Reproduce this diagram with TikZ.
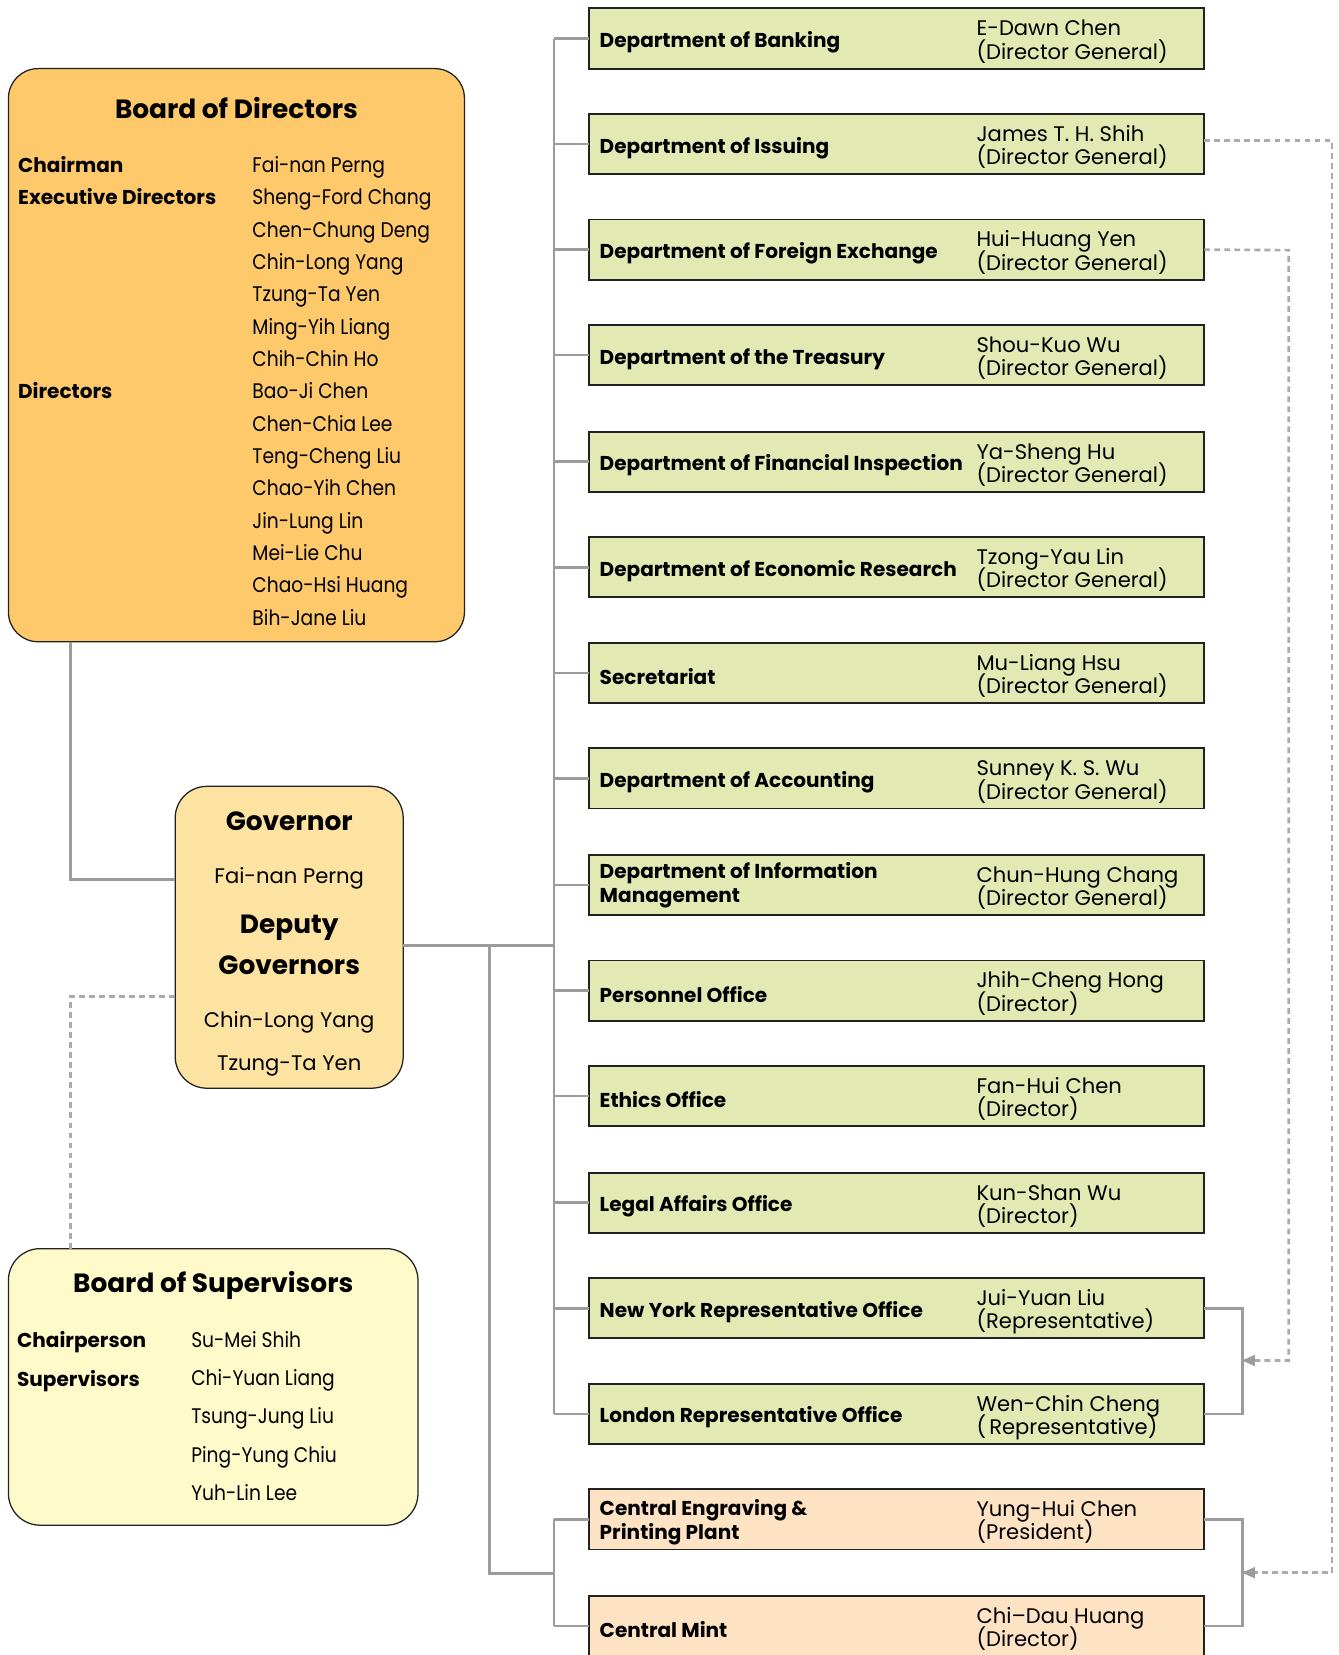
\documentclass[tikz,border=0pt]{standalone}
\usepackage{fontspec}
\setmainfont{Poppins}
\newfontfamily\nfont{Poppins}[FakeStretch=0.885]
\usetikzlibrary{arrows.meta}
\definecolor{bodfill}{HTML}{FDC96B}
\definecolor{govfill}{HTML}{FDE3A1}
\definecolor{supfill}{HTML}{FEFAC9}
\definecolor{deptfill}{HTML}{E2E9B2}
\definecolor{cenfill}{HTML}{FDE3C4}
\definecolor{linegray}{HTML}{9C9C9C}
\definecolor{boxline}{HTML}{222222}
\newcommand\dfont{\bfseries\fontsize{19}{23}\selectfont}
\newcommand\pfont{\fontsize{20}{23}\selectfont}
\newcommand\nmfont{\nfont\fontsize{20}{23}\selectfont}
\newcommand\tfont{\bfseries\fontsize{25}{30}\selectfont}
\newcommand\deptrow[7]{%
  \node[deptbox, fill=#3] (#1) at (558,#2) {};
  \node[dname, yshift=#7] (#1n) at ([xshift=10pt]#1.west) {#4};
  \node[pname] (#1a) at (925,#2+26) {#5};
  \node[pname] (#1b) at (925,#2+48) {#6};
}
\begin{document}
\begin{tikzpicture}[x=1pt,y=-1pt,
  deptbox/.style={draw=boxline, line width=1.8pt, minimum width=583pt, minimum height=57pt, anchor=north west, inner sep=0pt, outer sep=0pt},
  dname/.style={anchor=west, inner sep=0pt, font=\dfont, align=left},
  pname/.style={anchor=base west, inner sep=0pt, font=\pfont},
  nname/.style={anchor=base west, inner sep=0pt, font=\nmfont},
  lbl/.style={anchor=base west, inner sep=0pt, font=\dfont},
  ttl/.style={anchor=base, inner sep=0pt, font=\tfont},
  cname/.style={anchor=base, inner sep=0pt, font=\pfont},
  rbox/.style={draw=boxline, line width=1.2pt, anchor=north west, inner sep=0pt, outer sep=0pt},
  conn/.style={draw=linegray, line width=2.5pt},
  dsh/.style={draw=linegray!85, line width=2.5pt, dash pattern=on 5.5pt off 4pt}
]
\useasboundingbox (0,0) rectangle (1268,1568);
\fill[white] (0,0) rectangle (1268,1568);

% Board of Directors
\node[rbox, fill=bodfill, rounded corners=28pt, minimum width=432pt, minimum height=543pt] (bod) at (8,65) {};
\node[ttl] (bodt) at (224,112) {Board of Directors};
\node[lbl] (bdl1) at (17,163.5) {Chairman};
\node[lbl] (bdl2) at (17,193.5) {Executive Directors};
\node[lbl] (bdl3) at (17,377.5) {Directors};
\foreach \nm [count=\i] in {Fai-nan Perng, Sheng-Ford Chang, Chen-Chung Deng, Chin-Long Yang, Tzung-Ta Yen, Ming-Yih Liang, Chih-Chin Ho, Bao-Ji Chen, Chen-Chia Lee, Teng-Cheng Liu, Chao-Yih Chen, Jin-Lung Lin, Mei-Lie Chu, Chao-Hsi Huang, Bih-Jane Liu}
  \node[nname] (bdn\i) at (239,{163.5+(\i-1)*30.64}) {\nm};

% Governor
\node[rbox, fill=govfill, rounded corners=30pt, minimum width=216pt, minimum height=286pt] (gov) at (166,745) {};
\node[ttl] (govt) at (274,787) {Governor};
\node[cname] (gov1) at (274,837.5) {Fai-nan Perng};
\node[ttl] (govd1) at (274,884) {Deputy};
\node[ttl] (govd2) at (274,923) {Governors};
\node[cname] (gov2) at (274,973.5) {Chin-Long Yang};
\node[cname] (gov3) at (274,1014.5) {Tzung-Ta Yen};

% Board of Supervisors
\node[rbox, fill=supfill, rounded corners=30pt, minimum width=388pt, minimum height=262pt] (sup) at (8,1183) {};
\node[ttl] (supt) at (202,1225) {Board of Supervisors};
\node[lbl] (spl1) at (16,1276.5) {Chairperson};
\node[lbl] (spl2) at (16,1313.5) {Supervisors};
\foreach \nm [count=\i] in {Su-Mei Shih, Chi-Yuan Liang, Tsung-Jung Liu, Ping-Yung Chiu, Yuh-Lin Lee}
  \node[nname] (spn\i) at (181,{1276.5+(\i-1)*36.25}) {\nm};

% Departments
\deptrow{d1}{8}{deptfill}{Department of Banking}{E-Dawn Chen}{(Director General)}{-3.5pt}
\deptrow{d2}{108}{deptfill}{Department of Issuing}{James T. H. Shih}{(Director General)}{-3.5pt}
\deptrow{d3}{208}{deptfill}{Department of Foreign Exchange}{Hui-Huang Yen}{(Director General)}{-3.5pt}
\deptrow{d4}{308}{deptfill}{Department of the Treasury}{Shou-Kuo Wu}{(Director General)}{-3.5pt}
\deptrow{d5}{409}{deptfill}{Department of Financial Inspection}{Ya-Sheng Hu}{(Director General)}{-3.5pt}
\deptrow{d6}{509}{deptfill}{Department of Economic Research}{Tzong-Yau Lin}{(Director General)}{-3.5pt}
\deptrow{d7}{609}{deptfill}{Secretariat}{Mu-Liang Hsu}{(Director General)}{-3.5pt}
\deptrow{d8}{709}{deptfill}{Department of Accounting}{Sunney K. S. Wu}{(Director General)}{-3.5pt}
\deptrow{d9}{810}{deptfill}{Department of Information\\Management}{Chun-Hung Chang}{(Director General)}{0pt}
\deptrow{d10}{910}{deptfill}{Personnel Office}{Jhih-Cheng Hong}{(Director)}{-3.5pt}
\deptrow{d11}{1010}{deptfill}{Ethics Office}{Fan-Hui Chen}{(Director)}{-3.5pt}
\deptrow{d12}{1111}{deptfill}{Legal Affairs Office}{Kun-Shan Wu}{(Director)}{-3.5pt}
\deptrow{d13}{1211}{deptfill}{New York Representative Office}{Jui-Yuan Liu}{(Representative)}{-3.5pt}
\deptrow{d14}{1311}{deptfill}{London Representative Office}{Wen-Chin Cheng}{(\hspace{3pt}Representative)}{-3.5pt}
\deptrow{d15}{1411}{cenfill}{Central Engraving \&\\Printing Plant}{Yung-Hui Chen}{(President)}{-2.5pt}
\deptrow{d16}{1512}{cenfill}{Central Mint}{Chi–Dau Huang}{(Director)}{-3.5pt}

% junction coordinates
\coordinate (busj) at (525,896);
\coordinate (lowj) at (464,896);
\coordinate (cj) at (525,1491);
\coordinate (a1) at (1262,133);
\coordinate (t1) at (1179,1490);
\coordinate (a2) at (1221,237);
\coordinate (t2) at (1179,1289);

% connectors
\draw[conn] ([xshift=59pt]bod.south west) |- ([yshift=55pt]gov.west);
\draw[dsh] ([yshift=-56pt]gov.west) -| ([xshift=59pt]sup.north west);
\draw[conn] ([yshift=-8pt]gov.east) -- (busj);
\draw[conn] (d1.west -| busj) -- (d14.west -| busj);
\foreach \i in {1,...,14} \draw[conn] (d\i.west -| busj) -- (d\i.west);
\draw[conn] (lowj) |- (cj);
\draw[conn] (d15.west -| cj) -- (d16.west -| cj);
\foreach \i in {15,16} \draw[conn] (d\i.west -| cj) -- (d\i.west);
\draw[conn] (d13.east) -- ++(36,0) |- (d14.east);
\draw[conn] (d15.east) -- ++(36,0) |- (d16.east);
\draw[dsh] ([yshift=3.5pt]d2.east) -- (a1) |- (t1);
\draw[dsh] (d3.east) -- (a2) |- (t2);
\fill[linegray] (t1) ++(-2,0) -- ++(12,-5.5) -- ++(0,11) -- cycle;
\fill[linegray] (t2) ++(-2,0) -- ++(12,-5.5) -- ++(0,11) -- cycle;
\end{tikzpicture}
\end{document}
